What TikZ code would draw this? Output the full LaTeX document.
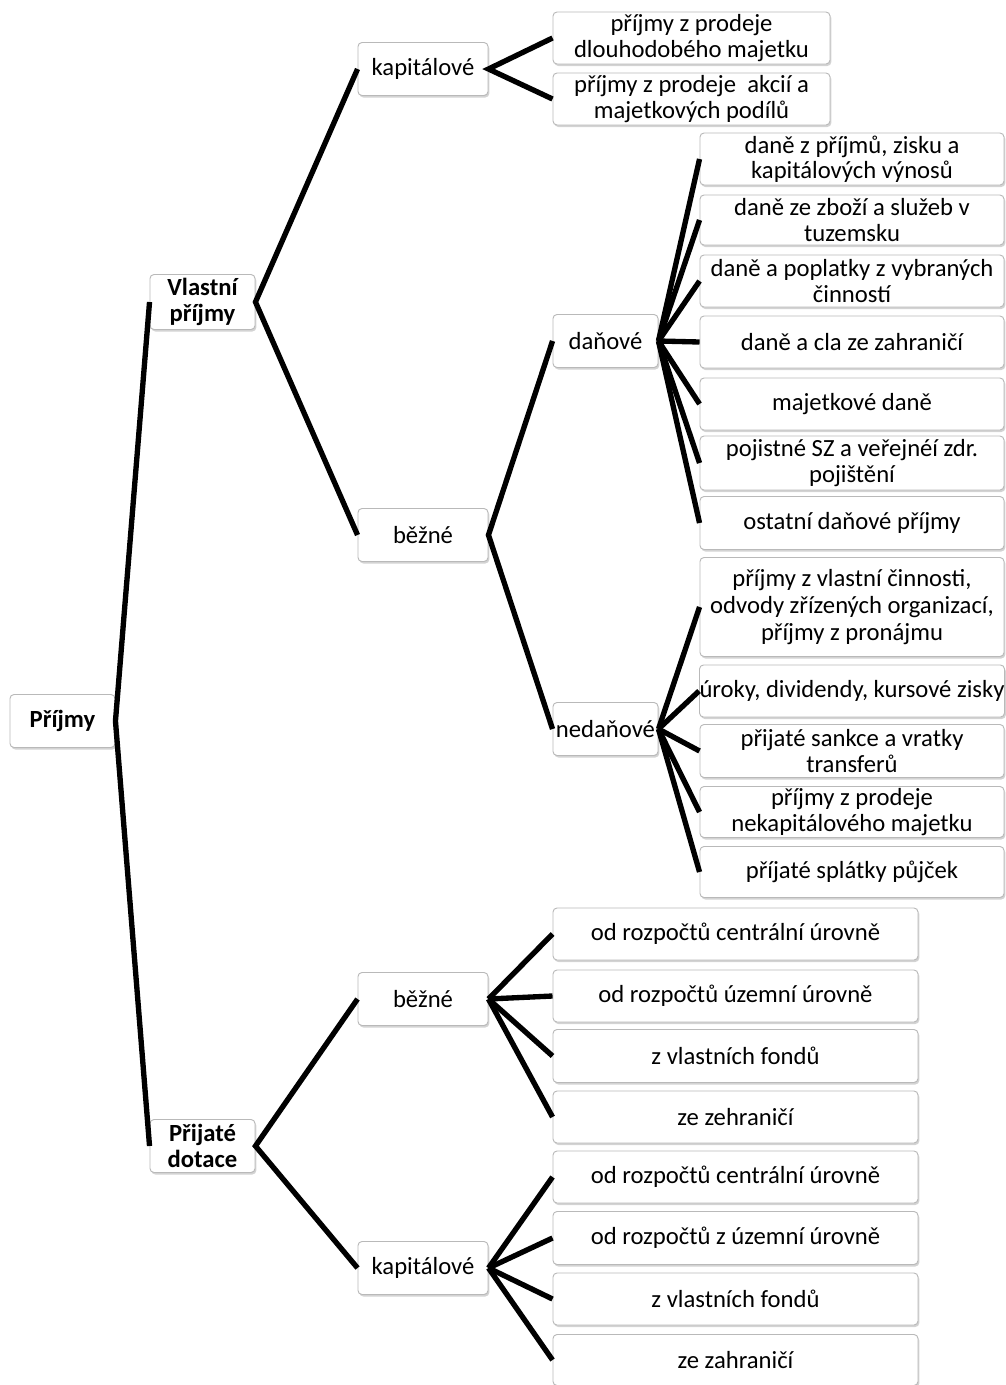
\documentclass[tikz,border=0pt]{standalone}
\usepackage{fontspec}
\setmainfont{Carlito}
\usetikzlibrary{shadows}
\begin{document}
\begin{tikzpicture}[x=0.75pt,y=-0.75pt,
  bx/.style n args={2}{draw=gray!55, line width=0.7pt, rounded corners=3pt, fill=white,
    drop shadow={opacity=0.35, shadow xshift=1pt, shadow yshift=-1.5pt},
    minimum width=#1*0.75pt, minimum height=#2*0.75pt, inner sep=0pt, align=center,
    font=\fontsize{18.5}{19}\selectfont},
  bold/.style={font=\fontsize{18.5}{19}\selectfont\bfseries},
  conn/.style={line width=4pt, black}]
\path[use as bounding box] (0,0) rectangle (1006,1385);
\clip (0,0) rectangle (1006,1385);

% level 0 and 1
\node[bx={105}{53}, bold] (root) at (62.5,721) {Příjmy};
\node[bx={105}{55}, bold] (vp) at (202.5,302) {Vlastní\\příjmy};
\node[bx={105}{53}, bold] (pd) at (202.5,1146) {Přijaté\\dotace};

% level 2
\node[bx={130}{53}] (kap1) at (423,69) {kapitálové};
\node[bx={130}{53}] (bez1) at (423,535) {běžné};
\node[bx={130}{53}] (bez2) at (423,999) {běžné};
\node[bx={130}{53}] (kap2) at (423,1268) {kapitálové};

% level 3
\node[bx={105}{53}] (dan) at (605.5,341) {daňové};
\node[bx={105}{53}] (ned) at (605.5,729) {nedaňové};

% kapitalove (vlastni)
\node[bx={277}{52}] (k1a) at (691.5,38) {příjmy z prodeje\\dlouhodobého majetku};
\node[bx={277}{52}] (k1b) at (691.5,99) {příjmy z prodeje\ \ akcií a\\majetkových podílů};

% danove
\node[bx={304}{52}] (d1) at (852,159) {daně z příjmů, zisku a\\kapitálových výnosů};
\node[bx={304}{50}] (d2) at (852,220) {daně ze zboží a služeb v\\tuzemsku};
\node[bx={304}{52}] (d3) at (852,281) {daně a poplatky z vybraných\\činností};
\node[bx={304}{52}] (d4) at (852,342) {daně a cla ze zahraničí};
\node[bx={304}{52}] (d5) at (852,404) {majetkové daně};
\node[bx={304}{54}] (d6) at (852,463) {pojistné SZ a veřejnéí zdr.\\pojištění};
\node[bx={304}{53}] (d7) at (852,523) {ostatní daňové příjmy};

% nedanove
\node[bx={304}{99}, font=\fontsize{18.5}{20}\selectfont] (n1) at (852,607) {příjmy z vlastní činnosti,\\odvody zřízených organizací,\\příjmy z pronájmu};
\node[bx={304}{52}] (n2) at (852,691) {úroky, dividendy, kursové zisky};
\node[bx={304}{53}] (n3) at (852,751) {přijaté sankce a vratky\\transferů};
\node[bx={304}{51}] (n4) at (852,812) {příjmy z prodeje\\nekapitálového majetku};
\node[bx={304}{51}] (n5) at (852,872) {příjaté splátky půjček};

% dotace bezne
\node[bx={365}{52}] (b1) at (735.5,934) {od rozpočtů centrální úrovně};
\node[bx={365}{52}] (b2) at (735.5,996) {od rozpočtů územní úrovně};
\node[bx={365}{53}] (b3) at (735.5,1056) {z vlastních fondů};
\node[bx={365}{52}] (b4) at (735.5,1117) {ze zehraničí};

% dotace kapitalove
\node[bx={365}{52}] (c1) at (735.5,1177) {od rozpočtů centrální úrovně};
\node[bx={365}{53}] (c2) at (735.5,1238) {od rozpočtů z územní úrovně};
\node[bx={365}{52}] (c3) at (735.5,1299) {z vlastních fondů};
\node[bx={365}{51}] (c4) at (735.5,1360) {ze zahraničí};

% connectors
\draw[conn] (vp.west) -- (root.east) -- (pd.west);
\draw[conn] (kap1.west) -- (vp.east) -- (bez1.west);
\draw[conn] (bez2.west) -- (pd.east) -- (kap2.west);
\draw[conn] (k1a.west) -- (kap1.east) -- (k1b.west);
\draw[conn] (dan.west) -- (bez1.east) -- (ned.west);
\foreach \t in {d1,d2,d3,d4,d5,d6,d7} \draw[conn] (dan.east) -- (\t.west);
\foreach \t in {n1,n2,n3,n4,n5} \draw[conn] (ned.east) -- (\t.west);
\foreach \t in {b1,b2,b3,b4} \draw[conn] (bez2.east) -- (\t.west);
\foreach \t in {c1,c2,c3,c4} \draw[conn] (kap2.east) -- (\t.west);
\end{tikzpicture}
\end{document}
